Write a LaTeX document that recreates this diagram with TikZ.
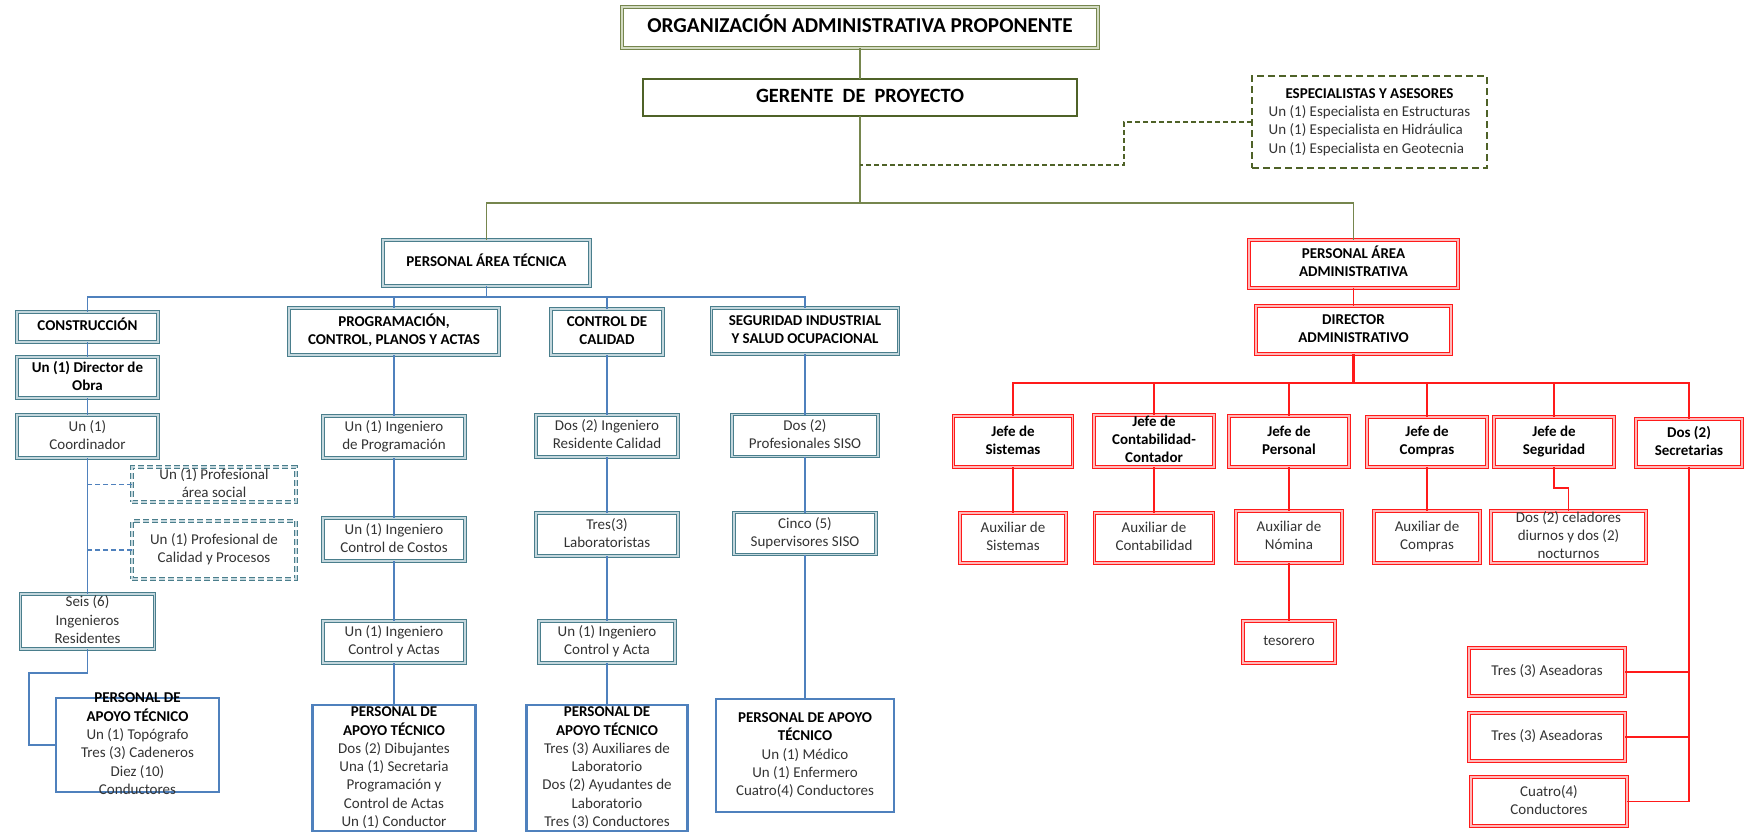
\documentclass[tikz,border=0pt]{standalone}
\usepackage{fontspec}
\setmainfont{Carlito}
\definecolor{grnc}{HTML}{76864E}
\definecolor{grnd}{HTML}{4F6228}
\definecolor{orgin}{HTML}{D3DBC2}
\definecolor{tealc}{HTML}{4A7E8C}
\definecolor{tealin}{HTML}{C4D7DD}
\definecolor{bluec}{HTML}{4F81BD}
\definecolor{redc}{HTML}{FF1A1A}
\definecolor{redin}{HTML}{FFB8B8}
\definecolor{txtc}{HTML}{333333}
\newcommand\ct[1]{\vbox to 0pt{\vss\hbox{\begin{tabular}{@{}c@{}}#1\end{tabular}}\vss}}
\newcommand\ctl[1]{\vbox to 0pt{\vss\hbox{\begin{tabular}{@{}l@{}}#1\end{tabular}}\vss}}
\newcommand\rgfont{\fontsize{15}{18.3}\selectfont}
\newcommand\bdfont{\fontsize{15}{18.3}\selectfont\bfseries}
\newcommand\ttlfont{\fontsize{21.2}{24}\selectfont\bfseries}
\newcommand\gerfont{\fontsize{20.3}{24}\selectfont\bfseries}
\tikzset{
  base/.style={rectangle, inner sep=0pt, outer sep=0pt},
  sz/.style 2 args={minimum width=#1pt, minimum height=#2pt},
  rg/.style={font=\rgfont, text=txtc},
  bd/.style={font=\bdfont, text=black},
  orgbox/.style={base, draw=grnc, double=orgin, line width=1.3pt, double distance=1.3pt},
  gerbox/.style={base, draw=grnd, line width=2.2pt},
  specbox/.style={base, draw=grnd, line width=1.8pt, dash pattern=on 7pt off 4pt},
  tealbox/.style={base, draw=tealc, double=tealin, line width=1.1pt, double distance=1.3pt},
  tealdash/.style={tealbox, dash pattern=on 6pt off 3pt},
  bluebox/.style={base, draw=bluec, line width=2.6pt},
  redbox/.style={base, draw=redc, double=redin, line width=1.2pt, double distance=1.1pt},
  gl/.style={draw=grnc, line width=1.3pt},
  gdash/.style={draw=grnd, line width=1.4pt, dash pattern=on 5pt off 3pt},
  bl/.style={draw=bluec, line width=1.3pt},
  bdash/.style={draw=bluec, line width=1.3pt, dash pattern=on 5pt off 3pt},
  rl/.style={draw=redc, line width=1.4pt},
}
\begin{document}
\begin{tikzpicture}[x=1pt,y=-1pt]
\useasboundingbox (0,0) rectangle (1745,833);

% ---- top
\node[orgbox, sz={476}{41}, font=\ttlfont] (org) at (860,27.5) {\ct{ORGANIZACIÓN ADMINISTRATIVA PROPONENTE}};
\node[gerbox, sz={434}{37}, font=\gerfont] (ger) at (860,97.5) {\ct{GERENTE\ \ DE\ \ PROYECTO}};
\node[specbox, sz={235}{92}, rg] (spec) at (1369.5,122) {\ctl{\multicolumn{1}{@{}c@{}}{\textcolor{black}{\bfseries ESPECIALISTAS Y ASESORES}}\\ Un (1) Especialista en Estructuras\\ Un (1) Especialista en Hidráulica\\ Un (1) Especialista en Geotecnia}};

\node[tealbox, sz={207}{46}, bd] (pat) at (486.5,263) {\ct{PERSONAL ÁREA TÉCNICA}};
\node[redbox, sz={209}{48}, bd] (paa) at (1353.5,264) {\ct{PERSONAL ÁREA\\ ADMINISTRATIVA}};
\node[redbox, sz={195}{48}, bd] (dir) at (1353.5,330) {\ct{DIRECTOR\\ ADMINISTRATIVO}};

\coordinate (gb) at (860,203);
\coordinate (sd) at (860,165);
\draw[gl] (org.south) -- (ger.north);
\draw[gl] (ger.south) -- (gb);
\draw[gl] (pat.north) |- (gb) -| (paa.north);
\draw[gdash] (spec.west) -| (1124,165) -- (sd);

% ---- technical area
\node[tealbox, sz={141}{30}, bd] (cons) at (87.5,327) {\ct{CONSTRUCCIÓN}};
\node[tealbox, sz={210}{47}, bd] (prog) at (394,331.5) {\ct{PROGRAMACIÓN,\\ CONTROL, PLANOS Y ACTAS}};
\node[tealbox, sz={112}{46}, bd] (cal) at (607,332) {\ct{CONTROL DE\\ CALIDAD}};
\node[tealbox, sz={187}{46}, bd] (seg) at (805,331) {\ct{SEGURIDAD INDUSTRIAL\\ Y SALUD OCUPACIONAL}};

\coordinate (tb) at (486.5,297);
\draw[bl] (pat.south) -- (tb);
\draw[bl] (cons.north) |- (tb) -| (seg.north);
\draw[bl] (prog.north) -- (prog.north |- tb);
\draw[bl] (cal.north) -- (cal.north |- tb);

% construction column
\node[tealbox, sz={141}{41}, bd] (dobra) at (87.5,377.5) {\ct{Un (1) Director de\\ Obra}};
\node[tealbox, sz={141}{43}, rg] (coord) at (87.5,436.5) {\ct{Un (1)\\ Coordinador}};
\node[tealdash, sz={164}{35}, rg] (social) at (214,484.5) {\ct{Un (1) Profesional\\ área social}};
\node[tealdash, sz={164}{58}, rg] (calproc) at (214,550) {\ct{Un (1) Profesional de\\ Calidad y Procesos}};
\node[tealbox, sz={134}{55}, rg] (seis) at (87.5,621.5) {\ct{Seis (6)\\ Ingenieros\\ Residentes}};
\node[bluebox, sz={163}{94}, rg] (apo1) at (137.5,745) {\ct{\textcolor{black}{\bfseries PERSONAL DE}\\ \textcolor{black}{\bfseries APOYO TÉCNICO}\\ Un (1) Topógrafo\\ Tres (3) Cadeneros\\ Diez (10)\\ Conductores}};

\draw[bl] (cons.south) -- (dobra.north);
\draw[bl] (dobra.south) -- (coord.north);
\draw[bl] (coord.south) -- (seis.north);
\draw[bdash] (social.west) -- (social.west -| coord.south);
\draw[bdash] (calproc.west) -- (calproc.west -| coord.south);
\draw[bl] (seis.south) |- (29,673) |- (apo1.west);

% programming column
\node[tealbox, sz={142}{42}, rg] (ingprog) at (394,437) {\ct{Un (1) Ingeniero\\ de Programación}};
\node[tealbox, sz={142}{43}, rg] (costos) at (394,539.5) {\ct{Un (1) Ingeniero\\ Control de Costos}};
\node[tealbox, sz={142}{42}, rg] (actas) at (394,642) {\ct{Un (1) Ingeniero\\ Control y Actas}};
\node[bluebox, sz={163}{126}, rg] (apo2) at (394,768) {\ct{\textcolor{black}{\bfseries PERSONAL DE}\\ \textcolor{black}{\bfseries APOYO TÉCNICO}\\ Dos (2) Dibujantes\\ Una (1) Secretaria\\ Programación y\\ Control de Actas\\ Un (1) Conductor}};
\draw[bl] (prog.south) -- (ingprog.north);
\draw[bl] (ingprog.south) -- (costos.north);
\draw[bl] (costos.south) -- (actas.north);
\draw[bl] (actas.south) -- (apo2.north);

% quality column
\node[tealbox, sz={142}{42}, rg] (ingcal) at (607,436) {\ct{Dos (2) Ingeniero\\ Residente Calidad}};
\node[tealbox, sz={142}{43}, rg] (lab) at (607,534.5) {\ct{Tres(3)\\ Laboratoristas}};
\node[tealbox, sz={136}{42}, rg] (acta) at (607,642) {\ct{Un (1) Ingeniero\\ Control y Acta}};
\node[bluebox, sz={161}{126}, rg] (apo3) at (607,768) {\ct{\textcolor{black}{\bfseries PERSONAL DE}\\ \textcolor{black}{\bfseries APOYO TÉCNICO}\\ Tres (3) Auxiliares de\\ Laboratorio\\ Dos (2) Ayudantes de\\ Laboratorio\\ Tres (3) Conductores}};
\draw[bl] (cal.south) -- (ingcal.north);
\draw[bl] (ingcal.south) -- (lab.north);
\draw[bl] (lab.south) -- (acta.north);
\draw[bl] (acta.south) -- (apo3.north);

% safety column
\node[tealbox, sz={146}{42}, rg] (siso) at (805,435.5) {\ct{Dos (2)\\ Profesionales SISO}};
\node[tealbox, sz={142}{42}, rg] (cinco) at (805,533.5) {\ct{Cinco (5)\\ Supervisores SISO}};
\node[bluebox, sz={178}{113}, rg] (apo4) at (805,755.5) {\ct{\textcolor{black}{\bfseries PERSONAL DE APOYO}\\ \textcolor{black}{\bfseries TÉCNICO}\\ Un (1) Médico\\ Un (1) Enfermero\\ Cuatro(4) Conductores}};
\draw[bl] (seg.south) -- (siso.north);
\draw[bl] (siso.south) -- (cinco.north);
\draw[bl] (cinco.south) -- (apo4.north);

% ---- administrative area
\node[redbox, sz={119}{51}, bd] (jsis) at (1013,441.5) {\ct{Jefe de\\ Sistemas}};
\node[redbox, sz={120}{52}, bd] (jcon) at (1154,441) {\ct{Jefe de\\ Contabilidad-\\ Contador}};
\node[redbox, sz={120}{51}, bd] (jper) at (1289,441.5) {\ct{Jefe de\\ Personal}};
\node[redbox, sz={120}{50}, bd] (jcom) at (1427,442) {\ct{Jefe de\\ Compras}};
\node[redbox, sz={120}{50}, bd] (jseg) at (1554,442) {\ct{Jefe de\\ Seguridad}};
\node[redbox, sz={106}{48}, bd] (sec) at (1689,443) {\ct{Dos (2)\\ Secretarias}};

\coordinate (rb) at (1353.5,383);
\draw[rl] (paa.south) -- (dir.north);
\draw[rl, line width=2.2pt] (dir.south) -- (rb);
\draw[rl] (jsis.north) |- (rb) -| (sec.north);
\draw[rl] (jcon.north) -- (jcon.north |- rb);
\draw[rl] (jper.north) -- (jper.north |- rb);
\draw[rl] (jcom.north) -- (jcom.north |- rb);
\draw[rl] (jseg.north) -- (jseg.north |- rb);

\node[redbox, sz={106}{50}, rg] (auxsis) at (1013,538) {\ct{Auxiliar de\\ Sistemas}};
\node[redbox, sz={119}{50}, rg] (auxcon) at (1154,538) {\ct{Auxiliar de\\ Contabilidad}};
\node[redbox, sz={106}{52}, rg] (auxnom) at (1289,537) {\ct{Auxiliar de\\ Nómina}};
\node[redbox, sz={92}{42}, rg] (tes) at (1289,642) {\ct{tesorero}};
\node[redbox, sz={106}{52}, rg] (auxcom) at (1427,537) {\ct{Auxiliar de\\ Compras}};
\node[redbox, sz={155}{52}, rg] (cel) at (1568.5,537) {\ct{Dos (2) celadores\\ diurnos y dos (2)\\ nocturnos}};
\node[redbox, sz={156}{48}, rg] (ase1) at (1547,672) {\ct{Tres (3) Aseadoras}};
\node[redbox, sz={156}{48}, rg] (ase2) at (1547,737) {\ct{Tres (3) Aseadoras}};
\node[redbox, sz={156}{49}, rg] (cond) at (1549,801.5) {\ct{Cuatro(4)\\ Conductores}};

\draw[rl] (jsis.south) -- (auxsis.north);
\draw[rl] (jcon.south) -- (auxcon.north);
\draw[rl] (jper.south) -- (auxnom.north);
\draw[rl] (auxnom.south) -- (tes.north);
\draw[rl] (jcom.south) -- (auxcom.north);
\draw[rl] (jseg.south) -- ++(0,21) -| (cel.north);
\draw[rl] (sec.south) |- (cond.east);
\draw[rl] (ase1.east) -- (ase1.east -| sec.south);
\draw[rl] (ase2.east) -- (ase2.east -| sec.south);
\end{tikzpicture}
\end{document}
